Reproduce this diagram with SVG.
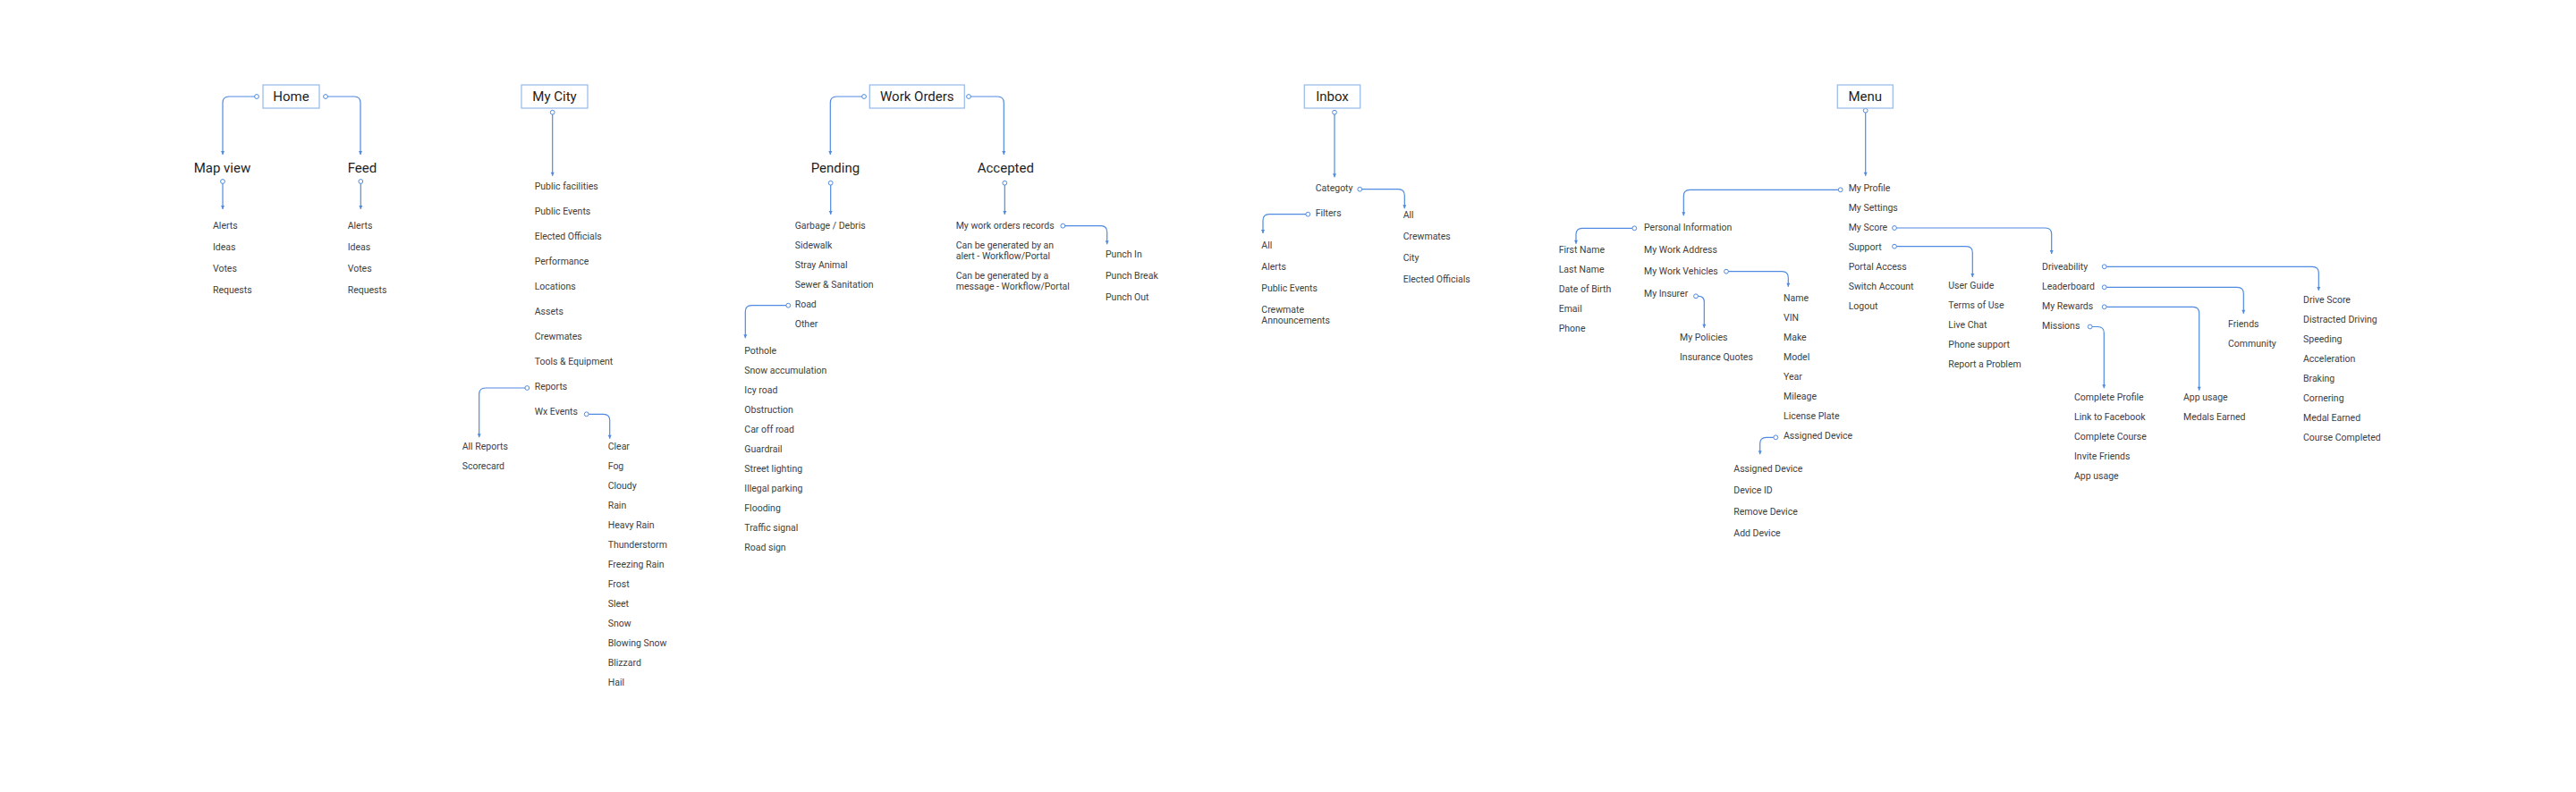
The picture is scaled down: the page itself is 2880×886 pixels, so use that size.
<svg xmlns="http://www.w3.org/2000/svg" width="2880" height="886" viewBox="0 0 2880 886">
<defs>
<style>
.box{fill:#fff;stroke:#9dbde9;stroke-width:1.3}
.t{font-family:Roboto,"Liberation Sans",sans-serif;font-size:15px;font-weight:400;fill:#1e1e1e}
.tc{text-anchor:middle}
.i{font-family:Roboto,"Liberation Sans",sans-serif;font-size:10.5px;fill:#404040}
.c{fill:none;stroke:#4f8ae0;stroke-width:1.2;marker-start:url(#dot);marker-end:url(#arr)}
</style>
<marker id="dot" markerUnits="userSpaceOnUse" markerWidth="8" markerHeight="8" viewBox="0 0 8 8" refX="4" refY="4" orient="auto"><circle cx="4" cy="4" r="2.4" fill="#fff" stroke="#4f8ae0" stroke-width="1"/></marker>
<marker id="arr" markerUnits="userSpaceOnUse" markerWidth="6" markerHeight="6" viewBox="0 0 6 6" refX="5" refY="3" orient="auto"><path d="M1,1 L5,3 L1,5 z" fill="#4f8ae0"/></marker>
</defs>
<rect width="2880" height="886" fill="#fff"/>

<g id="connectors">
<path class="c" d="M287 108 H256 Q249 108 249 115 V173"/>
<path class="c" d="M364 108 H396 Q403 108 403 115 V173"/>
<path class="c" d="M249 203 V234"/>
<path class="c" d="M403.3 203 V234"/>
<path class="c" d="M617.7 125.7 V196.7"/>
<path class="c" d="M589.3 434 H542.7 Q535.7 434 535.7 441 V489.3"/>
<path class="c" d="M655.7 463.3 H674.7 Q681.7 463.3 681.7 470.3 V490.7"/>
<path class="c" d="M966 108 H935.3 Q928.3 108 928.3 115 V173"/>
<path class="c" d="M1083 108 H1115.3 Q1122.3 108 1122.3 115 V173"/>
<path class="c" d="M928.7 204.7 V240"/>
<path class="c" d="M1123.3 204.7 V240"/>
<path class="c" d="M881.3 341.7 H840.3 Q833.3 341.7 833.3 348.7 V378.3"/>
<path class="c" d="M1188.3 252.7 H1230.7 Q1237.7 252.7 1237.7 259.7 V273.3"/>
<path class="c" d="M1492 125.7 V198.3"/>
<path class="c" d="M1520.3 211.7 H1563.3 Q1570.3 211.7 1570.3 218.7 V233.3"/>
<path class="c" d="M1462.3 239.7 H1419 Q1412 239.7 1412 246.7 V261"/>
<path class="c" d="M2085.7 123.7 V196.7"/>
<path class="c" d="M2057.7 212.3 H1889.3 Q1882.3 212.3 1882.3 219.3 V241.3"/>
<path class="c" d="M1827.3 255.3 H1769 Q1762 255.3 1762 262.3 V272.7"/>
<path class="c" d="M1930 303.7 H1992.3 Q1999.3 303.7 1999.3 310.7 V320.7"/>
<path class="c" d="M1896 331.3 H1899 Q1905.3 331.3 1905.3 337.6 V366.7"/>
<path class="c" d="M1985.3 489.3 H1974.7 Q1967.7 489.3 1967.7 496.3 V508.3"/>
<path class="c" d="M2118 255 H2286.7 Q2293.7 255 2293.7 262 V284"/>
<path class="c" d="M2118 275.7 H2198.3 Q2205.3 275.7 2205.3 282.7 V310"/>
<path class="c" d="M2352.7 298.3 H2585.3 Q2592.3 298.3 2592.3 305.3 V325"/>
<path class="c" d="M2352.7 321.3 H2501.3 Q2508.3 321.3 2508.3 328.3 V350.7"/>
<path class="c" d="M2352.7 343.3 H2451.7 Q2458.7 343.3 2458.7 350.3 V436.7"/>
<path class="c" d="M2336.7 365.5 H2345.3 Q2352.3 365.5 2352.3 372.5 V434.3"/>
</g>

<g id="home">
<rect class="box" x="294" y="95" width="63" height="26"/>
<text class="t tc" x="325.5" y="113">Home</text>
</g>
<g id="mapview">
<text class="t" x="216.7" y="193">Map view</text>
<text class="i" x="238" y="256">Alerts</text>
<text class="i" x="238" y="280">Ideas</text>
<text class="i" x="238" y="304">Votes</text>
<text class="i" x="238" y="328">Requests</text>
</g>
<g id="feed">
<text class="t" x="388.7" y="193">Feed</text>
<text class="i" x="388.7" y="256">Alerts</text>
<text class="i" x="388.7" y="280">Ideas</text>
<text class="i" x="388.7" y="304">Votes</text>
<text class="i" x="388.7" y="328">Requests</text>
</g>

<g id="mycity">
<rect class="box" x="583" y="95" width="74" height="26"/>
<text class="t tc" x="620" y="113">My City</text>
<text class="i" x="597.7" y="212.3">Public facilities</text>
<text class="i" x="597.7" y="240.3">Public Events</text>
<text class="i" x="597.7" y="268.3">Elected Officials</text>
<text class="i" x="597.7" y="296.3">Performance</text>
<text class="i" x="597.7" y="324.3">Locations</text>
<text class="i" x="597.7" y="352.3">Assets</text>
<text class="i" x="597.7" y="380.3">Crewmates</text>
<text class="i" x="597.7" y="408.3">Tools &amp; Equipment</text>
<text class="i" x="597.7" y="436.3">Reports</text>
<text class="i" x="597.7" y="464.3">Wx Events</text>
</g>
<g id="reports">
<text class="i" x="516.7" y="503.3">All Reports</text>
<text class="i" x="516.7" y="525.3">Scorecard</text>
</g>
<g id="wxevents">
<text class="i" x="679.7" y="503.3">Clear</text>
<text class="i" x="679.7" y="525.3">Fog</text>
<text class="i" x="679.7" y="547.3">Cloudy</text>
<text class="i" x="679.7" y="569.3">Rain</text>
<text class="i" x="679.7" y="591.3">Heavy Rain</text>
<text class="i" x="679.7" y="613.3">Thunderstorm</text>
<text class="i" x="679.7" y="635.3">Freezing Rain</text>
<text class="i" x="679.7" y="657.3">Frost</text>
<text class="i" x="679.7" y="679.3">Sleet</text>
<text class="i" x="679.7" y="701.3">Snow</text>
<text class="i" x="679.7" y="723.3">Blowing Snow</text>
<text class="i" x="679.7" y="745.3">Blizzard</text>
<text class="i" x="679.7" y="767.3">Hail</text>
</g>

<g id="workorders">
<rect class="box" x="972.3" y="95" width="106" height="26"/>
<text class="t tc" x="1025.3" y="113">Work Orders</text>
</g>
<g id="pending">
<text class="t" x="906.7" y="193">Pending</text>
<text class="i" x="888.7" y="256">Garbage / Debris</text>
<text class="i" x="888.7" y="278">Sidewalk</text>
<text class="i" x="888.7" y="300">Stray Animal</text>
<text class="i" x="888.7" y="322">Sewer &amp; Sanitation</text>
<text class="i" x="888.7" y="344">Road</text>
<text class="i" x="888.7" y="366">Other</text>
</g>
<g id="road">
<text class="i" x="832.3" y="396">Pothole</text>
<text class="i" x="832.3" y="418">Snow accumulation</text>
<text class="i" x="832.3" y="440">Icy road</text>
<text class="i" x="832.3" y="462">Obstruction</text>
<text class="i" x="832.3" y="484">Car off road</text>
<text class="i" x="832.3" y="506">Guardrail</text>
<text class="i" x="832.3" y="528">Street lighting</text>
<text class="i" x="832.3" y="550">Illegal parking</text>
<text class="i" x="832.3" y="572">Flooding</text>
<text class="i" x="832.3" y="594">Traffic signal</text>
<text class="i" x="832.3" y="616">Road sign</text>
</g>
<g id="accepted">
<text class="t" x="1092.7" y="193">Accepted</text>
<text class="i" x="1068.7" y="256">My work orders records</text>
<text class="i" x="1068.7" y="278">Can be generated by an</text>
<text class="i" x="1068.7" y="290">alert - Workflow/Portal</text>
<text class="i" x="1068.7" y="312">Can be generated by a</text>
<text class="i" x="1068.7" y="324">message - Workflow/Portal</text>
</g>
<g id="punch">
<text class="i" x="1236" y="288">Punch In</text>
<text class="i" x="1236" y="312">Punch Break</text>
<text class="i" x="1236" y="336">Punch Out</text>
</g>

<g id="inbox">
<rect class="box" x="1458.3" y="95" width="62.4" height="26"/>
<text class="t tc" x="1489.5" y="113">Inbox</text>
<text class="i" x="1470.7" y="214">Categoty</text>
<text class="i" x="1470.7" y="242">Filters</text>
</g>
<g id="filters">
<text class="i" x="1410.3" y="278">All</text>
<text class="i" x="1410.3" y="302">Alerts</text>
<text class="i" x="1410.3" y="326">Public Events</text>
<text class="i" x="1410.3" y="350">Crewmate</text>
<text class="i" x="1410.3" y="362">Announcements</text>
</g>
<g id="category">
<text class="i" x="1568.7" y="244">All</text>
<text class="i" x="1568.7" y="268">Crewmates</text>
<text class="i" x="1568.7" y="292">City</text>
<text class="i" x="1568.7" y="316">Elected Officials</text>
</g>

<g id="menu">
<rect class="box" x="2054.3" y="95" width="62" height="26"/>
<text class="t tc" x="2085.3" y="113">Menu</text>
<text class="i" x="2066.7" y="214">My Profile</text>
<text class="i" x="2066.7" y="236">My Settings</text>
<text class="i" x="2066.7" y="258">My Score</text>
<text class="i" x="2066.7" y="280">Support</text>
<text class="i" x="2066.7" y="302">Portal Access</text>
<text class="i" x="2066.7" y="324">Switch Account</text>
<text class="i" x="2066.7" y="346">Logout</text>
</g>
<g id="myprofile">
<text class="i" x="1838" y="258">Personal Information</text>
<text class="i" x="1838" y="282.7">My Work Address</text>
<text class="i" x="1838" y="307.3">My Work Vehicles</text>
<text class="i" x="1838" y="332">My Insurer</text>
</g>
<g id="personal">
<text class="i" x="1742.7" y="282.7">First Name</text>
<text class="i" x="1742.7" y="304.7">Last Name</text>
<text class="i" x="1742.7" y="326.7">Date of Birth</text>
<text class="i" x="1742.7" y="348.7">Email</text>
<text class="i" x="1742.7" y="370.7">Phone</text>
</g>
<g id="insurer">
<text class="i" x="1878" y="381">My Policies</text>
<text class="i" x="1878" y="403">Insurance Quotes</text>
</g>
<g id="vehicles">
<text class="i" x="1994" y="337">Name</text>
<text class="i" x="1994" y="359">VIN</text>
<text class="i" x="1994" y="381">Make</text>
<text class="i" x="1994" y="403">Model</text>
<text class="i" x="1994" y="425">Year</text>
<text class="i" x="1994" y="447">Mileage</text>
<text class="i" x="1994" y="469">License Plate</text>
<text class="i" x="1994" y="491">Assigned Device</text>
</g>
<g id="device">
<text class="i" x="1938.3" y="528">Assigned Device</text>
<text class="i" x="1938.3" y="552">Device ID</text>
<text class="i" x="1938.3" y="576">Remove Device</text>
<text class="i" x="1938.3" y="600">Add Device</text>
</g>
<g id="support">
<text class="i" x="2178.3" y="323.3">User Guide</text>
<text class="i" x="2178.3" y="345.3">Terms of Use</text>
<text class="i" x="2178.3" y="367.3">Live Chat</text>
<text class="i" x="2178.3" y="389.3">Phone support</text>
<text class="i" x="2178.3" y="411.3">Report a Problem</text>
</g>
<g id="myscore">
<text class="i" x="2283" y="302.3">Driveability</text>
<text class="i" x="2283" y="324.3">Leaderboard</text>
<text class="i" x="2283" y="346.3">My Rewards</text>
<text class="i" x="2283" y="368.3">Missions</text>
</g>
<g id="driveability">
<text class="i" x="2575" y="338.7">Drive Score</text>
<text class="i" x="2575" y="360.7">Distracted Driving</text>
<text class="i" x="2575" y="382.7">Speeding</text>
<text class="i" x="2575" y="404.7">Acceleration</text>
<text class="i" x="2575" y="426.7">Braking</text>
<text class="i" x="2575" y="448.7">Cornering</text>
<text class="i" x="2575" y="470.7">Medal Earned</text>
<text class="i" x="2575" y="492.7">Course Completed</text>
</g>
<g id="leaderboard">
<text class="i" x="2491" y="366">Friends</text>
<text class="i" x="2491" y="388">Community</text>
</g>
<g id="rewards">
<text class="i" x="2441" y="447.7">App usage</text>
<text class="i" x="2441" y="469.7">Medals Earned</text>
</g>
<g id="missions">
<text class="i" x="2319" y="447.7">Complete Profile</text>
<text class="i" x="2319" y="469.7">Link to Facebook</text>
<text class="i" x="2319" y="491.7">Complete Course</text>
<text class="i" x="2319" y="513.7">Invite Friends</text>
<text class="i" x="2319" y="535.7">App usage</text>
</g>
</svg>
